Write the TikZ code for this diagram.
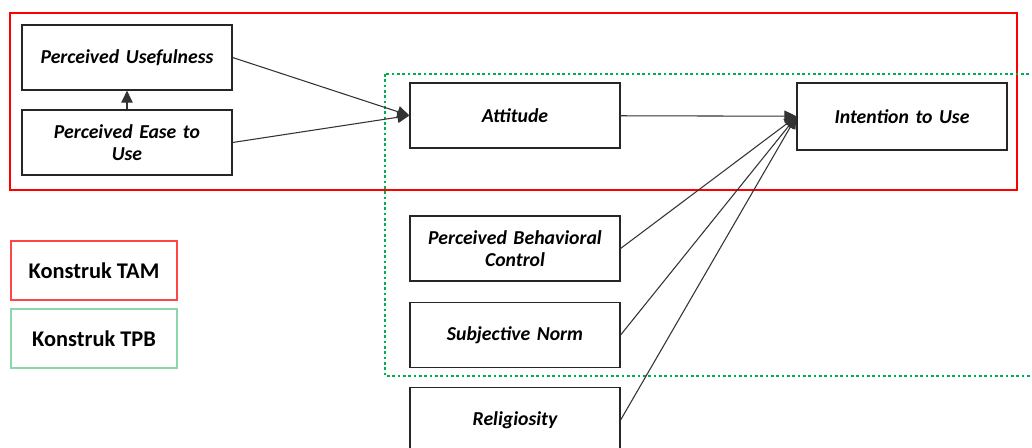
\documentclass[tikz,border=0pt]{standalone}
\usepackage{fontspec}
\setmainfont{Carlito}
\usetikzlibrary{arrows.meta, positioning}

\definecolor{tamred}{RGB}{255,0,0}
\definecolor{tpbgreen}{RGB}{0,176,80}
\definecolor{legred}{RGB}{255,70,70}
\definecolor{leggreen}{RGB}{140,214,170}

\begin{document}
\begin{tikzpicture}[x=0.75pt, y=-0.75pt,
    construct/.style = {draw=black!85, line width=0.9pt, fill=white,
      minimum width=157.5pt, minimum height=48.75pt, align=center,
      text width=150pt, font=\fontsize{14.8}{16.5}\selectfont\bfseries\itshape},
    legend/.style = {draw, line width=0.8pt, minimum width=124.5pt,
      minimum height=44.25pt, font=\fontsize{16.8}{19}\selectfont\bfseries},
    path/.style = {draw=black!80, line width=0.8pt, -{Triangle[length=9pt, width=8.5pt]}}]
  \clip (0,0) rectangle (1032,448);
  \useasboundingbox (0,0) rectangle (1032,448);

  % construct groups
  \draw[tamred, line width=1.6pt] (10,13) rectangle (1017,190);
  \draw[tpbgreen, line width=2pt, dotted] (385,74) rectangle (1045,376);

  % TAM constructs
  \node[construct] (PU) at (127,57.5) {Perceived Usefulness};
  \node[construct] (PEU) at (127,142.5) {Perceived Ease to\\Use};
  \node[construct] (ATT) at (515,115.5) {Attitude};
  \node[construct, minimum height=50.25pt] (ITU) at (902,116.5) {Intention to Use};

  % TPB constructs
  \node[construct] (PBC) at (515,248.5) {Perceived Behavioral\\Control};
  \node[construct] (SN) at (515,335) {Subjective Norm};
  \node[construct] (REL) at (515,420) {Religiosity};

  % legend
  \node[legend, draw=legred] (TAM) at (94,270.5) {Konstruk TAM};
  \node[legend, draw=leggreen] (TPB) at (94,338.5) {Konstruk TPB};

  \path[path] (PEU) -- (PU);
  \path[path] (PU.east) -- (ATT.west);
  \path[path] (PEU.east) -- (ATT.west);
  \path[path] (ATT) -- (ITU);
  \path[path] (PBC.east) -- (ITU.west);
  \path[path] (SN.east) -- (ITU.west);
  \path[path] (REL.east) -- (ITU.west);
\end{tikzpicture}
\end{document}
